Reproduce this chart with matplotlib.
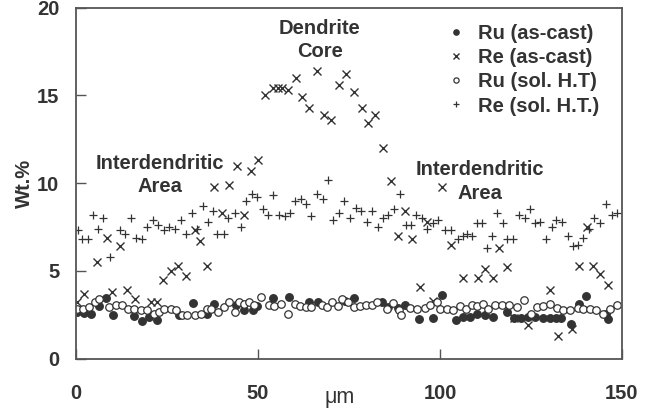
import matplotlib
matplotlib.use("Agg")
import matplotlib.pyplot as plt

plt.rcParams['font.family'] = ['Liberation Sans', 'DejaVu Sans']

# Ru (as-cast), filled circles
ru_cast_x = [0.4, 2.2, 4.1, 6.3, 8.2, 10.2, 15.8, 18.1, 20.1, 22.2, 28.4, 32.1, 36.1, 38.0,
             43.9, 46.1, 48.5, 49.7, 54.2, 58.4, 64.1, 66.4, 73.9, 76.4, 84.0, 85.6, 88.4,
             90.4, 94.2, 98.2, 100.6, 104.5, 106.4, 108.3, 110.3, 112.4, 114.6, 118.4, 120.4,
             122.2, 124.3, 126.2, 128.2, 130.1, 131.8, 133.2, 136.1, 138.3, 140.2, 145.6, 146.2]
ru_cast_y = [2.66, 2.62, 2.57, 3.0, 3.46, 2.51, 2.44, 2.13, 2.38, 2.22, 2.5, 3.19, 2.57, 3.13,
             3.08, 2.75, 2.79, 3.0, 3.45, 3.5, 3.25, 3.25, 3.26, 3.45, 3.2, 2.94, 2.87,
             3.04, 2.24, 2.3, 3.65, 2.22, 2.38, 2.38, 2.53, 2.51, 2.4, 2.66, 2.3,
             2.3, 2.4, 2.35, 2.33, 2.33, 2.33, 2.33, 1.99, 3.1, 3.56, 2.55, 2.28]

# Re (as-cast), crosses
re_cast_x = [0.2, 2.2, 5.9, 8.4, 10.0, 12.1, 13.9, 16.2, 20.7, 22.2, 24.0, 26.0, 28.1, 30.1,
             32.7, 34.1, 36.1, 38.0, 40.0, 42.1, 44.1, 46.1, 48.0, 50.0, 51.9, 54.0, 55.6,
             56.5, 58.3, 60.4, 62.2, 64.1, 66.1, 68.1, 70.1, 72.2, 74.2, 76.4, 78.5, 80.3,
             82.2, 84.3, 86.5, 88.5, 90.4, 92.2, 94.5, 96.3, 98.2, 100.5, 102.9, 106.4, 110.5,
             112.4, 114.5, 116.2, 118.3, 120.3, 124.3, 130.3, 132.3, 136.3, 138.3, 140.3,
             142.1, 144.1, 146.2]
re_cast_y = [3.2, 3.7, 5.5, 6.9, 3.8, 6.4, 3.9, 3.4, 3.2, 3.2, 4.5, 5.0, 5.3, 4.7,
             7.3, 6.7, 5.3, 9.8, 8.3, 9.9, 11.0, 8.2, 10.7, 11.3, 15.0, 15.4, 15.4,
             15.4, 15.3, 16.0, 14.9, 14.3, 16.4, 13.9, 13.6, 15.6, 16.2, 15.2, 14.3, 13.4,
             13.9, 12.0, 10.1, 7.0, 8.4, 6.8, 4.1, 7.8, 3.3, 9.8, 6.5, 4.6, 4.6,
             5.1, 4.6, 6.3, 5.2, 2.3, 1.9, 3.9, 1.3, 1.7, 5.3, 7.5,
             5.3, 4.8, 4.2]

# Ru (sol. H.T), open circles
ru_sol_x = [0.4, 2.0, 3.6, 5.1, 6.3, 9.1, 10.9, 12.7, 14.3, 15.9, 17.8, 19.4, 21.4, 22.8,
            24.2, 26.0, 27.4, 29.2, 30.6, 32.6, 34.3, 35.9, 37.2, 39.0, 40.7, 42.0, 43.6,
            44.8, 46.2, 47.5, 48.9, 50.7, 52.9, 54.3, 56.3, 58.3, 60.2, 61.5, 63.1, 64.6,
            67.5, 68.9, 70.4, 71.9, 73.2, 74.8, 76.5, 78.0, 79.6, 81.2, 82.6, 85.4, 87.2,
            88.7, 89.4, 91.8, 93.6, 95.9, 97.2, 99.1, 100.0, 101.8, 103.7, 105.5, 107.1,
            108.7, 110.1, 111.9, 113.3, 115.1, 117.0, 119.0, 121.1, 123.2, 125.0, 126.6,
            128.4, 130.2, 132.1, 133.9, 135.7, 137.8, 139.4, 141.2, 143.0, 144.9, 146.7, 148.5]
ru_sol_y = [2.85, 2.85, 2.94, 3.22, 3.41, 2.94, 3.04, 3.04, 2.85, 2.85, 2.75, 2.75, 2.57, 2.66,
            2.85, 2.85, 2.75, 2.51, 2.47, 2.47, 2.57, 2.85, 2.85, 2.66, 2.94, 3.22, 2.66,
            3.22, 3.13, 3.22, 3.04, 3.5, 3.04, 3.0, 3.1, 2.57, 3.13, 3.0, 2.94, 2.94,
            3.04, 2.94, 3.22, 3.0, 3.41, 3.22, 2.94, 3.0, 3.08, 3.04, 3.22, 2.85, 3.19,
            2.75, 2.47, 2.88, 2.81, 2.88, 3.04, 3.22, 2.85, 2.85, 2.75, 3.0, 2.85,
            3.08, 3.0, 3.13, 2.85, 3.04, 3.08, 3.04, 2.94, 3.32, 2.57, 2.94,
            3.0, 3.13, 2.88, 2.75, 2.75, 2.88, 2.85, 2.85, 2.75, 2.57, 2.85, 3.08]

# Re (sol. H.T.), plus signs
re_sol_x = [0.6, 1.6, 3.4, 4.8, 6.1, 7.5, 9.3, 12.1, 13.5, 15.0, 16.5, 18.0, 19.6, 21.2,
            22.6, 24.2, 25.6, 27.2, 28.8, 30.2, 31.8, 33.2, 34.8, 36.2, 37.7, 38.8, 40.7,
            41.8, 43.7, 45.3, 46.7, 48.3, 49.6, 51.3, 52.8, 54.0, 55.9, 57.4, 58.8, 60.2,
            61.8, 63.2, 64.6, 66.1, 67.8, 69.1, 70.7, 72.3, 73.7, 75.3, 76.8, 78.2, 79.9,
            81.4, 82.9, 84.4, 85.8, 87.4, 89.0, 90.6, 91.9, 93.4, 95.0, 96.3, 98.1, 99.4,
            101.4, 102.9, 105.0, 106.4, 107.5, 108.7, 110.3, 111.6, 112.8, 114.4, 115.8,
            117.4, 118.5, 120.1, 121.8, 123.4, 124.7, 126.1, 127.5, 129.1, 130.7, 131.9,
            133.4, 135.2, 136.6, 138.0, 139.4, 141.0, 142.3, 144.0, 145.6, 147.2, 148.5]
re_sol_y = [7.3, 6.8, 6.8, 8.2, 7.4, 8.0, 5.8, 7.3, 7.1, 8.0, 6.9, 6.8, 7.5, 7.9,
            7.6, 7.3, 7.5, 7.4, 7.9, 7.1, 8.3, 7.4, 8.7, 7.8, 8.4, 7.1, 7.1,
            8.0, 8.3, 7.5, 9.0, 9.4, 9.2, 8.5, 8.2, 9.3, 8.2, 8.1, 8.3, 9.0,
            9.1, 8.8, 8.1, 9.4, 9.1, 10.2, 7.9, 8.3, 9.0, 8.0, 8.6, 8.4, 7.8,
            8.4, 7.5, 8.0, 8.2, 8.5, 9.4, 7.6, 7.6, 8.2, 8.0, 7.4, 7.7, 7.9,
            7.3, 7.3, 6.8, 7.0, 7.1, 7.0, 7.7, 7.7, 6.3, 7.0, 8.3,
            7.7, 6.8, 6.8, 8.2, 8.0, 8.5, 7.7, 7.8, 6.8, 7.5, 7.9,
            7.8, 7.0, 6.4, 6.5, 6.9, 7.4, 8.0, 7.7, 8.8, 8.2, 8.3]

labels = ['Ru (as-cast)', 'Re (as-cast)', 'Ru (sol. H.T)', 'Re (sol. H.T.)']
x_ticks = [0, 50, 100, 150]
y_ticks = [0, 5, 10, 15, 20]

ink = '#333333'
fs = 14.5

fig = plt.figure(figsize=(6.47, 4.08), dpi=100)
ax = fig.add_axes([0.1175, 0.121, 0.8438, 0.8605])

ms = 5.4
ax.plot(ru_cast_x, ru_cast_y, 'o', ms=ms, color=ink, mec=ink, label=labels[0])
ax.plot(re_cast_x, re_cast_y, 'x', ms=ms, color=ink, mew=1.0, label=labels[1])
ax.plot(ru_sol_x, ru_sol_y, 'o', ms=ms, mfc='white', mec=ink, mew=0.9, label=labels[2])
ax.plot(re_sol_x, re_sol_y, '+', ms=ms + 1, color=ink, mew=0.9, label=labels[3])

ax.set_xlim(0, 150)
ax.set_ylim(0, 20)
ax.set_xticks(x_ticks)
ax.set_yticks(y_ticks)
ax.tick_params(axis='both', direction='in', length=7, width=1, color='#555555',
               labelsize=fs, labelcolor=ink)
ax.tick_params(axis='x', pad=18)
ax.tick_params(axis='y', pad=12)
for lab in ax.get_xticklabels() + ax.get_yticklabels():
    lab.set_fontweight('bold')
for sp in ax.spines.values():
    sp.set_color('#555555')
    sp.set_linewidth(1.3)

ax.set_ylabel('Wt.%', fontsize=fs, fontweight='bold', color=ink)
ax.yaxis.set_label_coords(-0.077, 0.5)
ax.text(0.483, -0.11, 'μm', transform=ax.transAxes, ha='center', va='center',
        fontsize=fs + 1, color=ink)

ax.text(67, 18.15, 'Dendrite\nCore', ha='center', va='center', fontsize=fs,
        fontweight='bold', color=ink, linespacing=1.3)
ax.text(23, 10.45, 'Interdendritic\nArea', ha='center', va='center', fontsize=fs,
        fontweight='bold', color=ink, linespacing=1.3)
ax.text(111, 10.1, 'Interdendritic\nArea', ha='center', va='center', fontsize=fs,
        fontweight='bold', color=ink, linespacing=1.3)

leg = ax.legend(loc='upper left', bbox_to_anchor=(0.6777, 0.952), frameon=False,
                fontsize=fs, handlelength=1.0, handletextpad=0.6, labelspacing=0.25,
                borderpad=0, borderaxespad=0, markerscale=0.7)
for t in leg.get_texts():
    t.set_fontweight('bold')
    t.set_color(ink)

fig.savefig('out.png', dpi=100)
